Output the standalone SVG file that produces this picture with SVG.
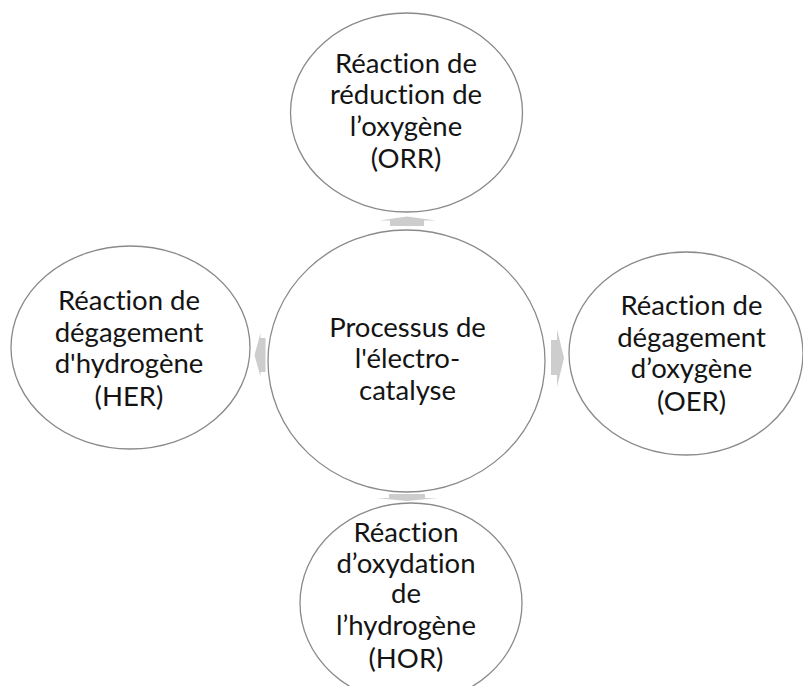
<svg xmlns="http://www.w3.org/2000/svg" width="803" height="686" viewBox="0 0 803 686">
  <style>
    .node { fill: #ffffff; stroke: #8a8a8a; stroke-width: 1.3; }
    .label { font-family: Lato, "Open Sans", "Liberation Sans", sans-serif; font-size: 27.5px; fill: #141414; text-anchor: middle; font-variant-ligatures: none; font-feature-settings: "liga" 0, "dlig" 0; }
    .arrow { fill: #cdcdcd; stroke: none; }
  </style>
  <rect width="803" height="686" fill="#ffffff"/>

  <!-- connectors: block arrows from the centre outwards -->
  <g id="connectors">
    <!-- up, to ORR -->
    <polygon class="arrow" points="390,226 390,220.5 379,220.5 407,216.5 436,220.5 424,220.5 424,226"/>
    <!-- left, to HER -->
    <polygon class="arrow" points="265.5,338 260.5,338 260.5,333 254.5,355 260.5,377 260.5,372 265.5,372"/>
    <!-- right, to OER -->
    <polygon class="arrow" points="551,340 557,340 557,329 564,358 557,387 557,375 551,375"/>
    <!-- down, to HOR -->
    <polygon class="arrow" points="389,494 425,494 425,498 438,498 407,501 376,498 389,498"/>
  </g>

  <g id="node-orr">
    <ellipse class="node" cx="406.5" cy="112.5" rx="116" ry="99.5"/>
    <text class="label" x="406" y="72.5">Réaction de</text>
    <text class="label" x="406" y="104">réduction de</text>
    <text class="label" x="406" y="136">l’oxygène</text>
    <text class="label" x="406" y="168">(ORR)</text>
  </g>

  <g id="node-her">
    <ellipse class="node" cx="130.5" cy="347.5" rx="119.5" ry="101.5"/>
    <text class="label" x="129" y="310">Réaction de</text>
    <text class="label" x="129" y="341.5">dégagement</text>
    <text class="label" x="129" y="373">d'hydrogène</text>
    <text class="label" x="129" y="405.5">(HER)</text>
  </g>

  <g id="node-oer">
    <ellipse class="node" cx="686" cy="353.5" rx="117" ry="101.5"/>
    <text class="label" x="691.5" y="315">Réaction de</text>
    <text class="label" x="691.5" y="346.5">dégagement</text>
    <text class="label" x="691.5" y="378">d’oxygène</text>
    <text class="label" x="691.5" y="410.5">(OER)</text>
  </g>

  <g id="node-hor">
    <ellipse class="node" cx="411" cy="603" rx="111" ry="100"/>
    <text class="label" x="406" y="541.5">Réaction</text>
    <text class="label" x="406" y="573">d’oxydation</text>
    <text class="label" x="406" y="603">de</text>
    <text class="label" x="406" y="635">l’hydrogène</text>
    <text class="label" x="406" y="667.5">(HOR)</text>
  </g>

  <g id="node-centre">
    <ellipse class="node" cx="406.5" cy="361" rx="138.5" ry="131"/>
    <text class="label" x="407.5" y="336.5">Processus de</text>
    <text class="label" x="407.5" y="368">l'électro-</text>
    <text class="label" x="407.5" y="399.5">catalyse</text>
  </g>
</svg>
